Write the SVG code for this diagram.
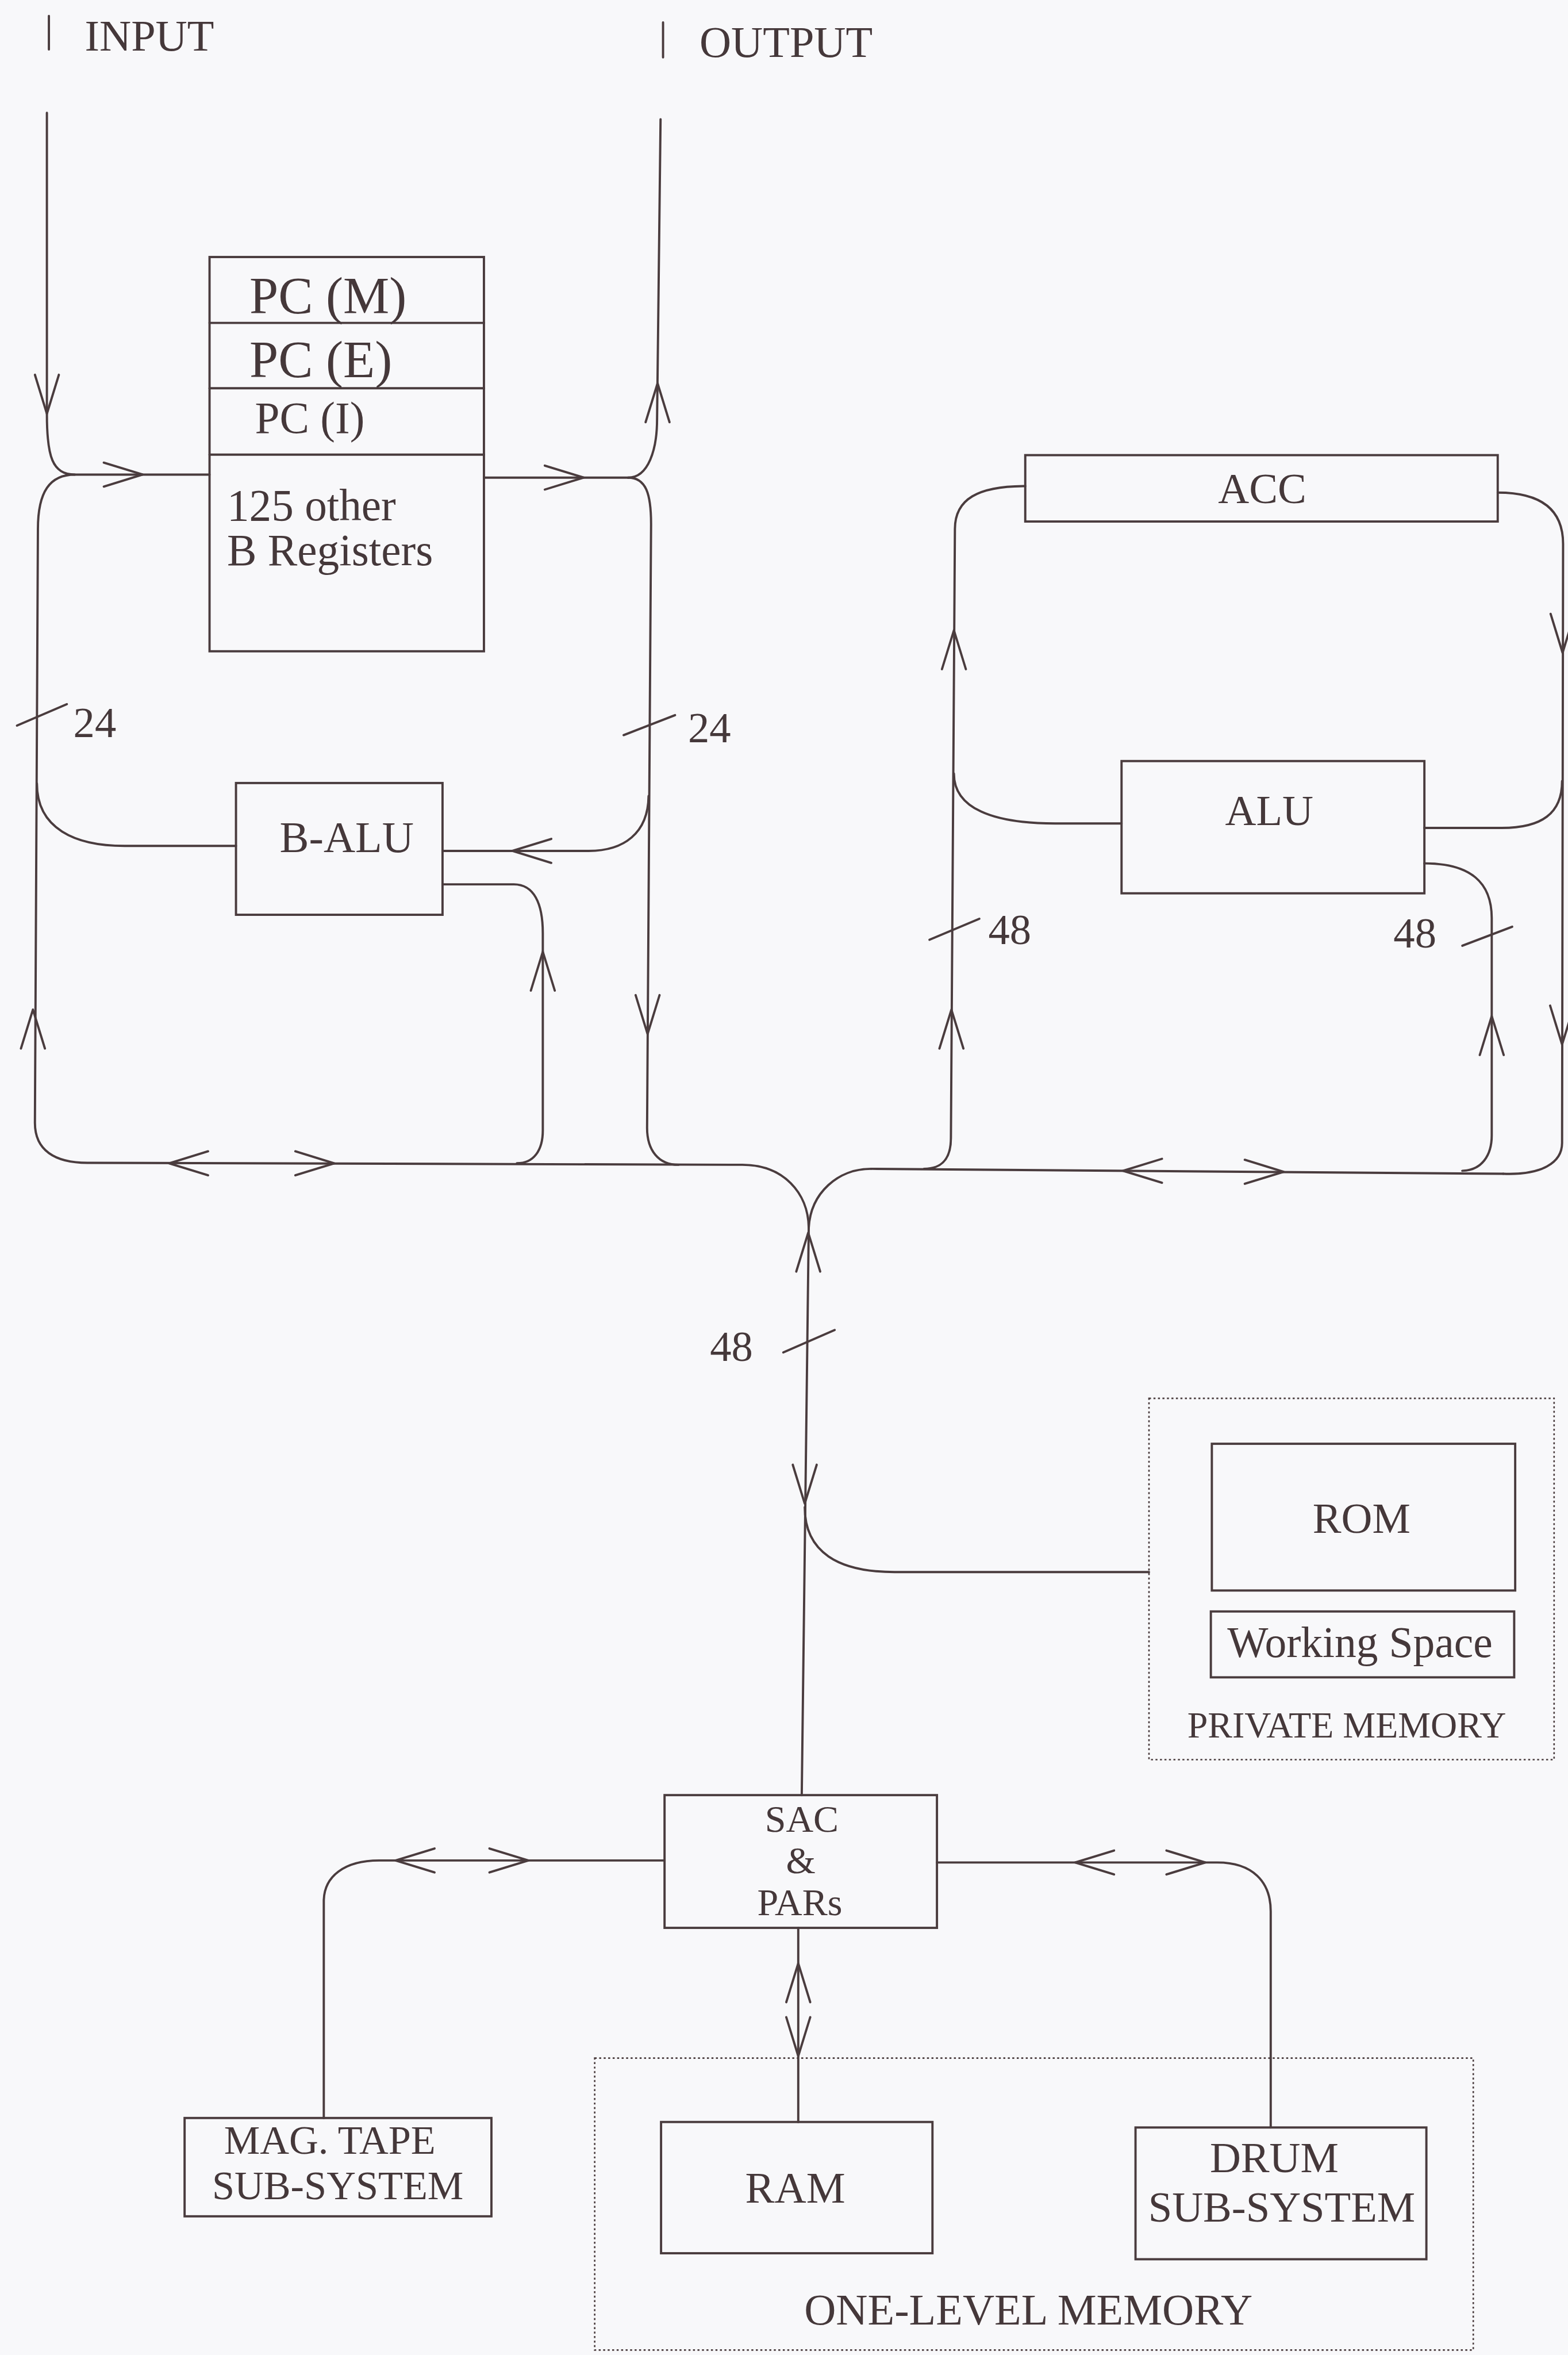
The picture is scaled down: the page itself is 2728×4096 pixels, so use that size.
<svg xmlns="http://www.w3.org/2000/svg" xmlns:xlink="http://www.w3.org/1999/xlink" width="2728" height="4096" viewBox="0 0 2728 4096">
<style>
.ln{fill:none;stroke:#4a3c3e;stroke-width:4.5;stroke-linecap:round;stroke-linejoin:round}
.bx{fill:none;stroke:#4a3c3e;stroke-width:4.5}
.dot{fill:none;stroke:#4a3c3e;stroke-width:3;stroke-dasharray:4 5}
.t{font-family:"Liberation Serif","Times New Roman",serif;fill:#45383a}
.m{text-anchor:middle}
</style>
<defs>
<path id="ah" d="M-78,-24 L0,0 L-78,24"/>
</defs>
<rect x="0" y="0" width="2728" height="4096" fill="#f8f8fa"/>
<g transform="scale(0.868)">
<g id="input">
<line class="ln" x1="98" y1="32" x2="98" y2="99"/>
<text class="t" x="170" y="101" font-size="88">INPUT</text>
</g>
<g id="output">
<line class="ln" x1="1329" y1="45" x2="1329" y2="115"/>
<text class="t" x="1402" y="114" font-size="88">OUTPUT</text>
</g>
<g id="pc-registers">
<rect class="bx" x="420" y="515" width="550" height="790"/>
<line class="ln" x1="420" y1="647" x2="970" y2="647"/>
<line class="ln" x1="420" y1="778" x2="970" y2="778"/>
<line class="ln" x1="420" y1="911" x2="970" y2="911"/>
<text class="t" x="500" y="628" font-size="104">PC (M)</text>
<text class="t" x="500" y="756" font-size="104">PC (E)</text>
<text class="t" x="511" y="867" font-size="89">PC (I)</text>
<text class="t" x="455" y="1043" font-size="89">125 other</text>
<text class="t" x="455" y="1133" font-size="89">B Registers</text>
</g>
<g id="b-alu">
<rect class="bx" x="473" y="1569" width="414" height="264"/>
<text class="t m" x="695" y="1707" font-size="88">B-ALU</text>
</g>
<g id="acc">
<rect class="bx" x="2055" y="912" width="947" height="133"/>
<text class="t m" x="2530" y="1008" font-size="86">ACC</text>
</g>
<g id="alu">
<rect class="bx" x="2248" y="1525" width="607" height="265"/>
<text class="t m" x="2544" y="1653" font-size="86">ALU</text>
</g>
<g id="private-memory">
<rect class="dot" x="2303" y="2802" width="812" height="724"/>
<text class="t" x="2380" y="3482" font-size="72" textLength="639" lengthAdjust="spacingAndGlyphs">PRIVATE MEMORY</text>
</g>
<g id="rom">
<rect class="bx" x="2429" y="2893" width="608" height="294"/>
<text class="t m" x="2729" y="3071" font-size="86">ROM</text>
</g>
<g id="working-space">
<rect class="bx" x="2427" y="3229" width="608" height="132"/>
<text class="t" x="2460" y="3320" font-size="87">Working Space</text>
</g>
<g id="sac-pars">
<rect class="bx" x="1332" y="3597" width="546" height="266"/>
<text class="t m" x="1607" y="3670" font-size="76">SAC</text>
<text class="t m" x="1605" y="3754" font-size="76">&amp;</text>
<text class="t m" x="1603" y="3838" font-size="76">PARs</text>
</g>
<g id="mag-tape">
<rect class="bx" x="370" y="4244" width="615" height="197"/>
<text class="t m" x="661" y="4316" font-size="81">MAG. TAPE</text>
<text class="t m" x="677" y="4407" font-size="81">SUB-SYSTEM</text>
</g>
<g id="one-level-memory">
<rect class="dot" x="1192" y="4124" width="1761" height="585"/>
<text class="t" x="1612" y="4658" font-size="88">ONE-LEVEL MEMORY</text>
</g>
<g id="ram">
<rect class="bx" x="1325" y="4252" width="544" height="263"/>
<text class="t m" x="1594" y="4414" font-size="88">RAM</text>
</g>
<g id="drum">
<rect class="bx" x="2276" y="4263" width="583" height="264"/>
<text class="t m" x="2554" y="4352" font-size="86">DRUM</text>
<text class="t m" x="2569" y="4452" font-size="86">SUB-SYSTEM</text>
</g>
<g id="connectors">
<path class="ln" d="M94,226 L94,830 C94,915 105,951 150,951 L420,951"/>
<path class="ln" d="M150,951 C100,951 76,985 76,1060 L70,2250 C70,2305 110,2330 175,2330 L1488,2334 C1570,2334 1620,2390 1621,2460"/>
<path class="ln" d="M74,1570 C74,1660 150,1695 250,1695 L473,1695"/>
<path class="ln" d="M970,957 L1259,957"/>
<path class="ln" d="M1259,957 C1300,957 1317,900 1317,840 L1324,239"/>
<path class="ln" d="M1259,957 C1295,957 1305,990 1305,1050 L1297,2260 C1297,2305 1320,2334 1360,2334"/>
<path class="ln" d="M887,1705 L1180,1705 C1250,1705 1299,1670 1300,1595"/>
<path class="ln" d="M887,1772 L1030,1772 C1070,1772 1088,1810 1088,1870 L1088,2265 C1088,2305 1070,2331 1036,2331"/>
<path class="ln" d="M2055,974 C1960,974 1914,1000 1914,1060 L1906,2280 C1906,2320 1890,2342 1852,2342"/>
<path class="ln" d="M1912,1550 C1912,1620 1990,1650 2115,1650 L2248,1650"/>
<path class="ln" d="M1746,2342 L3013,2352"/>
<path class="ln" d="M1746,2342 C1680,2342 1625,2390 1621,2460"/>
<path class="ln" d="M3002,987 C3100,987 3133,1030 3133,1090 L3131,2290 C3131,2330 3090,2355 3013,2352"/>
<path class="ln" d="M2855,1659 L3010,1659 C3090,1659 3131,1630 3131,1565"/>
<path class="ln" d="M2855,1730 C2950,1730 2990,1770 2990,1840 L2990,2275 C2990,2315 2970,2345 2931,2346"/>
<path class="ln" d="M1621,2460 L1607,3597"/>
<path class="ln" d="M1613,3020 C1613,3110 1680,3150 1793,3150 L2303,3150"/>
<path class="ln" d="M1332,3728 L760,3728 C690,3728 649,3760 649,3810 L649,4244"/>
<path class="ln" d="M1878,3732 L2440,3732 C2510,3732 2547,3770 2547,3830 L2547,4263"/>
<path class="ln" d="M1600,3863 L1600,4252"/>
<use class="ln" xlink:href="#ah" href="#ah" transform="translate(94,829) rotate(90)"/>
<use class="ln" xlink:href="#ah" href="#ah" transform="translate(286,951)"/>
<use class="ln" xlink:href="#ah" href="#ah" transform="translate(66,2023) rotate(-90)"/>
<use class="ln" xlink:href="#ah" href="#ah" transform="translate(339,2331) rotate(180)"/>
<use class="ln" xlink:href="#ah" href="#ah" transform="translate(670,2331)"/>
<use class="ln" xlink:href="#ah" href="#ah" transform="translate(1170,957)"/>
<use class="ln" xlink:href="#ah" href="#ah" transform="translate(1318,768) rotate(-90)"/>
<use class="ln" xlink:href="#ah" href="#ah" transform="translate(1298,2072) rotate(90)"/>
<use class="ln" xlink:href="#ah" href="#ah" transform="translate(1027,1705) rotate(180)"/>
<use class="ln" xlink:href="#ah" href="#ah" transform="translate(1088,1907) rotate(-90)"/>
<use class="ln" xlink:href="#ah" href="#ah" transform="translate(1912,1263) rotate(-90)"/>
<use class="ln" xlink:href="#ah" href="#ah" transform="translate(1907,2023) rotate(-90)"/>
<use class="ln" xlink:href="#ah" href="#ah" transform="translate(3132,1308) rotate(90)"/>
<use class="ln" xlink:href="#ah" href="#ah" transform="translate(3131,2093) rotate(90)"/>
<use class="ln" xlink:href="#ah" href="#ah" transform="translate(2990,2036) rotate(-90)"/>
<use class="ln" xlink:href="#ah" href="#ah" transform="translate(2251,2346) rotate(180)"/>
<use class="ln" xlink:href="#ah" href="#ah" transform="translate(2573,2348)"/>
<use class="ln" xlink:href="#ah" href="#ah" transform="translate(1620,2470) rotate(-90)"/>
<use class="ln" xlink:href="#ah" href="#ah" transform="translate(1613,3013) rotate(90)"/>
<use class="ln" xlink:href="#ah" href="#ah" transform="translate(793,3728) rotate(180)"/>
<use class="ln" xlink:href="#ah" href="#ah" transform="translate(1059,3728)"/>
<use class="ln" xlink:href="#ah" href="#ah" transform="translate(2155,3732) rotate(180)"/>
<use class="ln" xlink:href="#ah" href="#ah" transform="translate(2416,3732)"/>
<use class="ln" xlink:href="#ah" href="#ah" transform="translate(1600,3934) rotate(-90)"/>
<use class="ln" xlink:href="#ah" href="#ah" transform="translate(1600,4120) rotate(90)"/>
<line class="ln" x1="34" y1="1454" x2="134" y2="1411"/>
<line class="ln" x1="1250" y1="1473" x2="1353" y2="1433"/>
<line class="ln" x1="1863" y1="1883" x2="1963" y2="1841"/>
<line class="ln" x1="2931" y1="1895" x2="3031" y2="1857"/>
<line class="ln" x1="1570" y1="2710" x2="1673" y2="2665"/>
<text class="t" x="147" y="1477" font-size="86">24</text>
<text class="t" x="1379" y="1487" font-size="86">24</text>
<text class="t" x="1981" y="1892" font-size="86">48</text>
<text class="t" x="2793" y="1899" font-size="86">48</text>
<text class="t" x="1423" y="2727" font-size="86">48</text>
</g>
</g>
</svg>
